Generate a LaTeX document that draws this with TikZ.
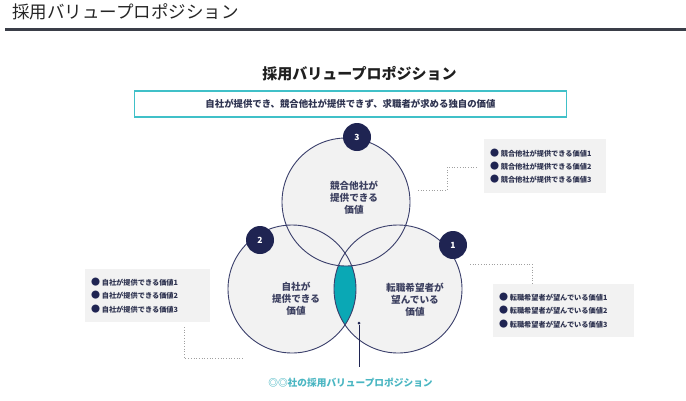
\documentclass[tikz,border=0pt]{standalone}
\usepackage{fontspec}
\setmainfont{Noto Sans CJK JP}
\usetikzlibrary{calc}
\definecolor{navy}{HTML}{1F2452}
\definecolor{ring}{HTML}{3A3F6B}
\definecolor{ctext}{HTML}{3C4060}
\definecolor{boxtext}{HTML}{2E3350}
\definecolor{tealline}{HTML}{40C0C8}
\definecolor{tealfill}{HTML}{0AA8B5}
\definecolor{labteal}{HTML}{4AB6C2}
\definecolor{pale}{HTML}{F2F2F2}
\definecolor{dotgray}{HTML}{A0A0A0}
\definecolor{rulegray}{HTML}{3A3E48}
\tikzset{
  vcircle/.style={circle, fill=pale, minimum size=128pt, inner sep=0pt},
  ringline/.style={draw=ring, line width=0.9pt},
  ctxt/.style={text=ctext, font=\fontsize{9.6}{12}\selectfont\bfseries, align=center, inner sep=0pt},
  badge/.style={circle, fill=navy, minimum size=28pt, inner sep=0pt, text=white, font=\fontsize{8.5}{8.5}\selectfont\bfseries},
  listbox/.style={fill=pale, inner xsep=6pt, inner ysep=0pt, align=left, text=boxtext, font=\fontsize{7.2}{13.3}\selectfont\bfseries},
  conn/.style={draw=dotgray, line width=0.7pt, dotted},
}
\newcommand{\itm}{{\color{navy}\fontsize{9}{9}\selectfont●}\hspace{1.8pt}}
\begin{document}
\begin{tikzpicture}[x=1pt,y=-1pt]
\useasboundingbox (0,0) rectangle (686,400);
% header
\node[anchor=west, inner sep=0pt, text=black!85, font=\fontsize{17.5}{18}\selectfont] (hdr) at (12,12) {採用バリュープロポジション};
\coordinate (ruleL) at (5,29.5);
\coordinate (ruleR) at (686,29.5);
\draw[rulegray, line width=3pt] (ruleL) -- (ruleR);
% subtitle
\node[inner sep=0pt, text=black!88, font=\fontsize{15}{15}\selectfont\bfseries] (sub) at (359.5,74) {採用バリュープロポジション};
\node[draw=tealline, line width=1.8pt, minimum width=432pt, minimum height=26pt, inner sep=0pt, text=boxtext, font=\fontsize{9.4}{10}\selectfont\bfseries] (def) at (350.5,104) {自社が提供でき、競合他社が提供できず、求職者が求める独自の価値};
% circles
\node[vcircle] (c3) at (346,202) {};
\node[vcircle] (c2) at (292,289) {};
\node[vcircle] (c1) at (398,289) {};
\begin{scope}
  \clip (c1.center) circle[radius=64pt];
  \clip (c2.center) circle[radius=64pt];
  \fill[tealfill, even odd rule] (200,150) rectangle (500,400) (c3.center) circle[radius=64pt];
\end{scope}
\draw[ringline] (c3.center) circle[radius=64pt];
\draw[ringline] (c2.center) circle[radius=64pt];
\draw[ringline] (c1.center) circle[radius=64pt];
% circle texts
\node[ctxt] (t3) at (354,198) {競合他社が\\提供できる\\価値};
\node[ctxt] (t2) at (296,299) {自社が\\提供できる\\価値};
\node[ctxt] (t1) at (415,299.5) {転職希望者が\\望んでいる\\価値};
% badges
\node[badge] (b3) at (357,137) {3};
\node[badge] (b2) at (260,240) {2};
\node[badge] (b1) at (453,245) {1};
% lists
\node[listbox, minimum width=122pt, minimum height=54pt, text width=110pt] (l3) at (545,166) {\itm 競合他社が提供できる価値1\\\itm 競合他社が提供できる価値2\\\itm 競合他社が提供できる価値3};
\node[listbox, minimum width=141pt, minimum height=53pt, text width=129pt] (l1) at (563.5,310.5) {\itm 転職希望者が望んでいる価値1\\\itm 転職希望者が望んでいる価値2\\\itm 転職希望者が望んでいる価値3};
\node[listbox, minimum width=125pt, minimum height=53pt, text width=113pt] (l2) at (147.5,295.5) {\itm 自社が提供できる価値1\\\itm 自社が提供できる価値2\\\itm 自社が提供できる価値3};
% connectors
\coordinate (k3a) at (418,190);
\coordinate (k3b) at (477,167);
\draw[conn] (k3a) -- (447,190) |- (k3b);
\coordinate (k1a) at (470,264);
\draw[conn] (k1a) -| ([xshift=-31.5pt]l1.north);
\coordinate (k2a) at (184,327);
\coordinate (k2b) at (243,358);
\draw[conn] (k2a) |- (k2b);
% pointer
\node[circle, fill=navy, minimum size=3pt, inner sep=0pt] (pdot) at (359,323) {};
\coordinate (pend) at (359,367);
\draw[navy, line width=0.9pt] (pdot) -- (pend);
\node[inner sep=0pt, text=labteal, font=\fontsize{9.7}{10}\selectfont\bfseries] (lab) at (350.5,383) {◎◎社の採用バリュープロポジション};
\end{tikzpicture}
\end{document}
